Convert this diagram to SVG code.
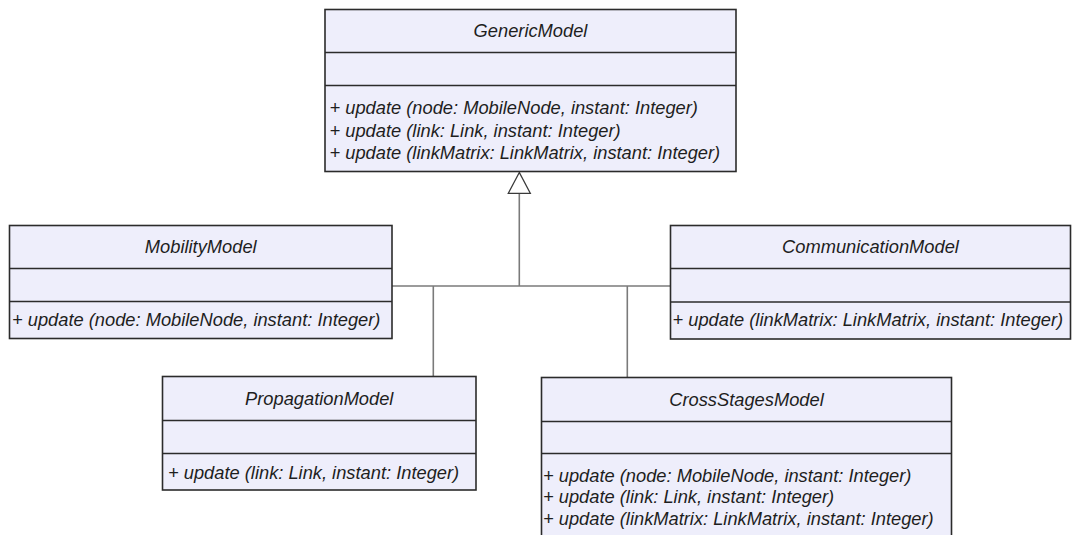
<svg xmlns="http://www.w3.org/2000/svg" width="1072" height="535" viewBox="0 0 1072 535">
<style>
.box{fill:#EEEEFB;stroke:#2b2b2b;stroke-width:1.6}
.div{stroke:#2b2b2b;stroke-width:1.6}
.t{font-family:"Liberation Sans",Arial,sans-serif;font-size:18.3px;font-style:italic;fill:#1e1e1e}
.c{text-anchor:middle}
.ln{stroke:#7a7a7a;stroke-width:1.6;fill:none}
.tri{fill:#ffffff;stroke:#3a3a3a;stroke-width:1.3}
</style>
<rect width="1072" height="535" fill="#ffffff"/>
<g id="connectors">
<line class="ln" x1="519.3" y1="193" x2="519.3" y2="286"/>
<line class="ln" x1="392" y1="286" x2="670.5" y2="286"/>
<line class="ln" x1="433.3" y1="286" x2="433.3" y2="376.5"/>
<line class="ln" x1="627.3" y1="286" x2="627.3" y2="377.5"/>
<polygon class="tri" points="519.3,172.5 508.3,193.3 530.3,193.3"/>
</g>
<g id="GenericModel">
<rect class="box" x="325" y="9.5" width="411" height="162"/>
<line class="div" x1="325" y1="52.5" x2="736" y2="52.5"/>
<line class="div" x1="325" y1="85.5" x2="736" y2="85.5"/>
<text class="t c" x="530.5" y="37">GenericModel</text>
<text class="t" x="329.5" y="114">+ update (node: MobileNode, instant: Integer)</text>
<text class="t" x="329.5" y="136.5">+ update (link: Link, instant: Integer)</text>
<text class="t" x="329.5" y="159">+ update (linkMatrix: LinkMatrix, instant: Integer)</text>
</g>
<g id="MobilityModel">
<rect class="box" x="9.5" y="225.5" width="382.5" height="113"/>
<line class="div" x1="9.5" y1="268.5" x2="392" y2="268.5"/>
<line class="div" x1="9.5" y1="301.5" x2="392" y2="301.5"/>
<text class="t c" x="200.75" y="253">MobilityModel</text>
<text class="t" x="12" y="325.5">+ update (node: MobileNode, instant: Integer)</text>
</g>
<g id="CommunicationModel">
<rect class="box" x="670.5" y="225.5" width="400" height="113.5"/>
<line class="div" x1="670.5" y1="268.5" x2="1070.5" y2="268.5"/>
<line class="div" x1="670.5" y1="302" x2="1070.5" y2="302"/>
<text class="t c" x="870.5" y="253">CommunicationModel</text>
<text class="t" x="672.5" y="326">+ update (linkMatrix: LinkMatrix, instant: Integer)</text>
</g>
<g id="PropagationModel">
<rect class="box" x="162.5" y="376.5" width="313.5" height="113.5"/>
<line class="div" x1="162.5" y1="420.5" x2="476" y2="420.5"/>
<line class="div" x1="162.5" y1="453.5" x2="476" y2="453.5"/>
<text class="t c" x="319.25" y="404.5">PropagationModel</text>
<text class="t" x="168" y="478.5">+ update (link: Link, instant: Integer)</text>
</g>
<g id="CrossStagesModel">
<rect class="box" x="541.5" y="377.5" width="410" height="165"/>
<line class="div" x1="541.5" y1="421.5" x2="951.5" y2="421.5"/>
<line class="div" x1="541.5" y1="453.5" x2="951.5" y2="453.5"/>
<text class="t c" x="746.5" y="405.5">CrossStagesModel</text>
<text class="t" x="543" y="481.5">+ update (node: MobileNode, instant: Integer)</text>
<text class="t" x="543" y="503">+ update (link: Link, instant: Integer)</text>
<text class="t" x="543" y="525">+ update (linkMatrix: LinkMatrix, instant: Integer)</text>
</g>
</svg>
